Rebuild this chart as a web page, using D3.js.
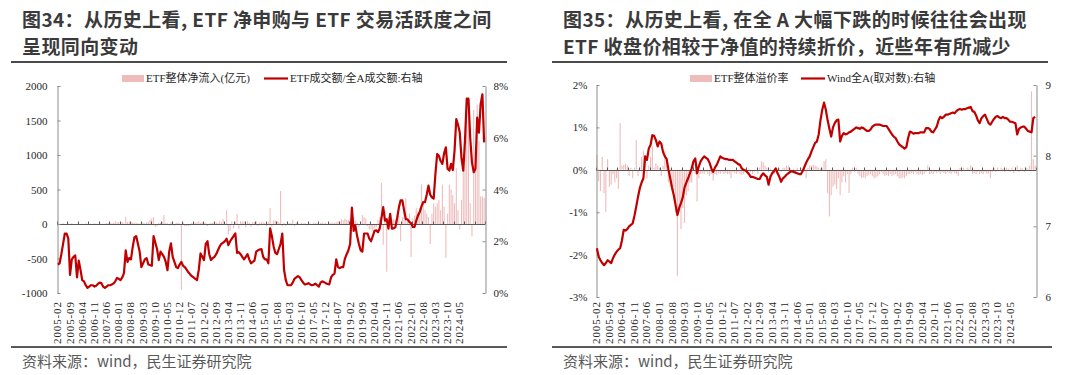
<!DOCTYPE html>
<html>
<head>
<meta charset="utf-8">
<script src="https://cdn.jsdelivr.net/npm/d3@7"></script>
<style>
  body { margin: 0; background: #fff; }
  svg { display: block; }
</style>
</head>
<body>
<svg id="chart" width="1080" height="375"></svg>
<script>
// ---- data (monthly, 2005-02 onwards) ----
const first_year = 2005, first_month = 2, n_months = 246;
const months = d3.range(n_months).map((i) => {
  const m = first_month - 1 + i;
  return (first_year + Math.floor(m / 12)) + '-' + String(m % 12 + 1).padStart(2, '0');
});

const tick_labels = [
  '2005-02','2005-09','2006-04','2006-11','2007-06','2008-01','2008-08','2009-03','2009-10',
  '2010-05','2010-12','2011-07','2012-02','2012-09','2013-04','2013-11','2014-06','2015-01',
  '2015-08','2016-03','2016-10','2017-05','2017-12','2018-07','2019-02','2019-09','2020-04',
  '2020-11','2021-06','2022-01','2022-08','2023-03','2023-10','2024-05'
];

// 图34 bars: ETF整体净流入(亿元)
const etf_net_inflow = [
  0, 5, -5, 10, 0, -10, 5, 0, 10, -5, 0, 5,
  0, -5, 5, 0, 10, 0, -5, 5, 0, 10, 5, 0,
  10, 5, -10, 5, 15, 10, 20, 10, 15, 40, 25, 30,
  20, 30, 10, 105, 30, 35, 20, 25, 15, 20, 10, 5,
  15, 20, 10, 25, 30, 60, 80, 100, -40, -30, 20, 15,
  30, 130, 20, 10, -20, 25, 30, -25, 20, 15, 10, -955,
  20, -30, -25, -30, -20, 15, 10, 20, 25, 40, 20, 25,
  15, 20, -30, 10, 15, 20, 10, 25, 15, 40, 30, 70,
  20, 200, -150, -100, 40, -60, 30, 145, -70, 40, 35, 40,
  -50, 40, 20, -40, 30, 25, 40, -30, 20, 30, 25, 20,
  -30, 30, 230, -40, 50, 50, 40, 30, 480, -30, 20, -25,
  20, 15, 10, 60, -30, 20, 15, -10, 20, 10, 15, -20,
  15, 10, -15, 20, 15, 10, -10, 15, 20, 10, 15, -15,
  10, 20, 15, 20, 25, 40, 30, 70, 50, 80, 60, 60,
  80, 170, 100, 50, 20, -40, 30, 130, 100, 80, -30, -80,
  -80, -100, -60, -50, 60, 100, 595, -300, 200, -690, 100, 150,
  60, 70, 50, 60, 120, -250, 100, 200, 375, 60, 150, -480,
  80, 120, 230, 180, 230, 570, 330, 200, 150, 100, -290, 150,
  300, 250, 300, 350, 200, 570, 250, -490, 150, 570, 500, 420,
  300, 810, 200, -80, 350, 810, 1300, 1830, 1800, 300, -180, 1650,
  1100, 1730, 1200, 400, 400, 380
];

// 图34 line: ETF成交额/全A成交额 (%), right axis
const etf_turnover_ratio = [
  1.1, 1.15, 1.5, 1.9, 2.3, 2.3, 2.1, 0.7, 1.3, 1.4, 1.45, 0.6,
  1.25, 0.9, 0.5, 0.45, 0.3, 0.2, 0.25, 0.3, 0.3, 0.25, 0.28, 0.35,
  0.4, 0.38, 0.25, 0.2, 0.25, 0.3, 0.3, 0.33, 0.37, 0.45, 0.58, 0.55,
  0.5, 0.6, 0.77, 1.65, 1.2, 1.35, 1.3, 1.77, 2.15, 2.2, 1.9, 1.6,
  1.0, 1.15, 1.3, 1.35, 1.1, 1.08, 1.05, 2.2, 1.95, 1.7, 1.27, 1.6,
  1.5, 1.4, 1.2, 0.88, 1.6, 1.92, 1.4, 1.2, 1.0, 0.96, 1.1, 1.2,
  1.05, 1.0, 0.9, 0.8, 0.72, 0.65, 0.6, 0.55, 0.5, 0.9, 1.53, 1.4,
  1.27, 1.9, 2.0, 1.5, 1.27, 1.35, 1.4, 1.5, 1.65, 1.8, 1.9, 1.95,
  2.0, 2.1, 1.85, 2.0, 2.1, 2.2, 2.3, 1.55, 1.58, 1.5, 1.4, 1.3,
  1.4, 1.5, 1.3, 1.15, 1.2, 1.25, 1.6, 1.65, 1.68, 1.7, 1.4, 1.3,
  1.3, 1.15, 2.5, 2.2, 1.8, 1.55, 1.5, 1.7, 1.9, 2.3, 0.9, 0.5,
  0.3, 0.3, 0.3, 0.4, 0.55, 0.6, 0.65, 0.6, 0.5, 0.4, 0.33, 0.35,
  0.38, 0.33, 0.3, 0.32, 0.36, 0.3, 0.25, 0.4, 0.45, 0.42, 0.38, 0.35,
  0.33, 0.6, 0.7, 0.75, 1.3, 1.0, 0.96, 1.0, 1.0, 1.33, 1.5, 1.65,
  1.9, 3.3, 2.4, 2.6, 2.2, 1.9, 1.65, 1.6, 2.3, 2.3, 2.3, 2.1,
  2.0, 2.2, 2.4, 2.42, 2.35, 2.5, 2.9, 3.32, 2.8, 2.85, 2.49, 3.06,
  2.49, 2.5, 2.55, 2.9, 3.3, 3.58, 3.58, 3.2, 2.85, 2.85, 2.75, 2.7,
  2.55, 2.55, 2.8, 3.0, 3.13, 3.35, 3.51, 3.51, 3.8, 4.15, 3.8, 3.7,
  3.65, 4.6, 5.37, 5.3, 5.1, 4.99, 5.4, 5.63, 4.8, 4.73, 4.99, 4.75,
  5.5, 6.72, 6.5, 6.2, 5.2, 4.73, 5.9, 7.51, 7.51, 6.0, 5.05, 4.67,
  4.8, 6.78, 6.2, 7.3, 7.68, 5.82
];

// 图35 bars: ETF整体溢价率 (%)
const etf_premium = [
  0.35, -0.27, -0.5, 0.3, -0.55, -1.0, 0.25, -0.4, -0.35, -0.1, -0.3, -0.2,
  -0.45, 1.1, 0.1, 0.12, 0.15, 0.1, -0.15, 0.05, -0.2, 0.05, 0.7, -0.15,
  0.05, 0.3, 0.45, 0.35, -0.2, 0.1, 0.3, 0.55, 0.05, 0.15, 0.1, 0.05,
  -0.15, 0.1, 0.45, 0.3, -0.3, -0.4, -0.5, -0.5, -1.0, -2.5, -1.0, -1.4,
  -0.9, -1.25, -0.6, -0.5, -0.3, -0.3, 0.25, -0.1, -0.75, -0.2, -0.1, -0.08,
  -0.1, -0.05, -0.1, -0.15, -0.1, -0.25, -0.1, -0.12, -0.08, -0.1, -0.05, -0.1,
  -0.08, -0.1, -0.1, -0.2, -0.05, -0.08, -0.1, -0.05, -0.1, -0.12, -0.1, -0.05,
  -0.08, 0.03, -0.05, -0.1, -0.05, -0.03, -0.1, 0.05, 0.2, 0.18, 0.1, 0.05,
  -0.05, 0.03, -0.05, -0.1, 0.05, -0.05, 0.03, -0.05, 0.05, 0.05, 0.1, 0.1,
  0.05, -0.05, 0.03, -0.05, 0.05, -0.03, 0.05, -0.05, 0.03, -0.2, 0.05, 0.1,
  0.1, 0.12, 0.1, 0.08, 0.05, 0.03, 0.05, 0.2, 0.25, -0.55, -1.1, -0.6,
  -0.4, -0.35, -0.45, -0.2, -0.6, -0.3, -0.15, -0.3, -0.1, -0.55, -0.1, 0.05,
  -0.05, 0.05, -0.1, -0.15, -0.2, -0.18, -0.2, -0.15, -0.12, -0.1, -0.15, -0.2,
  -0.18, -0.15, -0.1, -0.05, -0.1, -0.15, -0.12, -0.15, -0.1, -0.15, -0.12, -0.1,
  -0.15, -0.2, -0.2, -0.18, -0.2, -0.15, -0.1, -0.1, -0.08, -0.1, -0.05, -0.1,
  -0.12, -0.1, -0.12, -0.1, -0.05, 0.1, -0.1, -0.08, -0.1, -0.05, -0.08, -0.05,
  -0.1, -0.05, -0.08, -0.1, -0.05, -0.08, -0.1, -0.05, -0.08, -0.1, -0.15, 0.05,
  -0.05, 0.05, -0.03, 0.05, 0.03, 0.1, -0.1, -0.08, -0.1, -0.05, -0.1, -0.08,
  -0.1, -0.05, -0.1, -0.08, -0.2, -0.05, 0.05, -0.05, 0.05, -0.03, 0.05, 0.03,
  -0.05, 0.05, 0.03, -0.05, 0.05, -0.08, 0.05, 0.1, -0.05, 0.05, 0.03, -0.05,
  0.05, 0.03, 0.1, 1.85, 0.25, 0.1
];

// 图35 line: Wind全A(取对数), right axis
const wind_all_a_log = [
  6.69, 6.57, 6.52, 6.48, 6.45, 6.48, 6.52, 6.5, 6.48, 6.55, 6.6, 6.64,
  6.67, 6.69, 6.8, 6.95, 6.94, 6.96, 7.0, 7.02, 7.04, 7.15, 7.28, 7.42,
  7.54, 7.62, 7.68, 7.99, 7.94, 8.1, 8.15, 8.29, 8.28, 8.22, 8.13, 8.2,
  8.17, 8.05, 7.99, 7.95, 7.8, 7.68, 7.55, 7.44, 7.3, 7.16, 7.26, 7.33,
  7.41, 7.55, 7.62, 7.68, 7.75, 7.82, 7.92, 7.96, 7.75, 7.85, 7.92, 7.96,
  7.99, 7.97, 7.95, 7.9, 7.82, 7.77, 7.83, 7.87, 7.93, 7.99, 7.97, 7.96,
  7.95, 7.95, 7.94, 7.94, 7.94, 7.92, 7.9, 7.88, 7.87, 7.82, 7.80, 7.79,
  7.77, 7.74, 7.70, 7.70, 7.69, 7.68, 7.67, 7.67, 7.72, 7.75, 7.72, 7.70,
  7.59, 7.7, 7.75, 7.78, 7.82, 7.75, 7.7, 7.63, 7.68, 7.7, 7.73, 7.75,
  7.77, 7.78, 7.77, 7.76, 7.75, 7.74, 7.74, 7.78, 7.84, 7.9, 7.95, 7.99,
  8.06, 8.12, 8.18, 8.2, 8.3, 8.5, 8.65, 8.75, 8.65, 8.5, 8.38, 8.27,
  8.4, 8.46, 8.5, 8.51, 8.2, 8.28, 8.32, 8.3, 8.31, 8.33, 8.34, 8.36,
  8.38, 8.4, 8.39, 8.38, 8.40, 8.39, 8.37, 8.35, 8.35, 8.37, 8.41, 8.43,
  8.44, 8.44, 8.44, 8.43, 8.42, 8.42, 8.42, 8.38, 8.34, 8.3, 8.27, 8.25,
  8.2, 8.16, 8.14, 8.12, 8.10, 8.12, 8.25, 8.34, 8.33, 8.31, 8.32, 8.32,
  8.32, 8.33, 8.33, 8.33, 8.39, 8.39, 8.38, 8.34, 8.33, 8.37, 8.41, 8.5,
  8.55, 8.53, 8.55, 8.58, 8.58, 8.59, 8.60, 8.61, 8.6, 8.63, 8.65, 8.66,
  8.65, 8.66, 8.66, 8.67, 8.68, 8.69, 8.63, 8.62, 8.57, 8.5, 8.46, 8.53,
  8.56, 8.58, 8.52, 8.46, 8.44, 8.48, 8.52, 8.55, 8.56, 8.54, 8.53, 8.55,
  8.53, 8.53, 8.51, 8.48, 8.48, 8.47, 8.46, 8.3, 8.38, 8.4, 8.41, 8.41,
  8.38, 8.35, 8.34, 8.33, 8.53, 8.55
];

// ---- styles ----
const line_color = '#c00000';
const bar_color = '#efbcbc';
const axis_color = '#8c8c8c';
const text_color = '#262626';
const num_font = '"Times New Roman", "Liberation Serif", "Noto Sans CJK SC", serif';
const title_font = '"Noto Sans CJK SC", "Microsoft YaHei", sans-serif';

const svg = d3.select('#chart');

// 1. one panel = title block + dual axis chart + source
function draw_panel(cfg){
  const g = svg.append('g').attr('class', cfg.name);

  // title, two lines (spaced so the line boxes do not collide)
  cfg.title.forEach((t, k) => {
    g.append('text')
      .attr('x', cfg.title_x).attr('y', 26.5 + k * 27.5)
      .attr('font-family', title_font).attr('font-weight', 700)
      .attr('font-size', 19).attr('letter-spacing', 0.4)
      .attr('fill', '#3a3a3a')
      .text(t);
  });
  g.append('line')
    .attr('x1', cfg.rule[0]).attr('x2', cfg.rule[1])
    .attr('y1', 62).attr('y2', 62)
    .attr('stroke', '#4a4a4a').attr('stroke-width', 2);

  // scales
  const x = d3.scaleBand().domain(d3.range(months.length)).range([cfg.left, cfg.right]);
  const y_l = d3.scaleLinear().domain(cfg.left_domain).range([cfg.bottom, cfg.top]);
  const y_r = d3.scaleLinear().domain(cfg.right_domain).range([cfg.bottom, cfg.top]);
  const bw = Math.max(1, x.bandwidth() * 0.62);

  // bars
  g.append('g').selectAll('rect')
    .data(cfg.bars)
    .join('rect')
    .attr('x', (d, i) => x(i) + (x.bandwidth() - bw) / 2)
    .attr('y', (d) => y_l(Math.max(0, d)))
    .attr('width', bw)
    .attr('height', (d) => Math.abs(y_l(d) - y_l(0)))
    .attr('fill', bar_color);

  // category axis on the zero line, ticks pointing up
  const y0 = Math.round(y_l(0)) + 0.5;
  const tick_idx = d3.range(0, months.length + 1, 6);
  const xg = g.append('g');
  xg.append('line')
    .attr('x1', cfg.left).attr('x2', cfg.right)
    .attr('y1', y0).attr('y2', y0)
    .attr('stroke', '#595959').attr('stroke-width', 1);
  xg.selectAll('line.tk')
    .data(tick_idx)
    .join('line')
    .attr('class', 'tk')
    .attr('x1', (i) => Math.round(cfg.left + i * x.step()) + 0.5)
    .attr('x2', (i) => Math.round(cfg.left + i * x.step()) + 0.5)
    .attr('y1', y0).attr('y2', y0 - 3)
    .attr('stroke', '#595959');

  // rotated date labels under the plot
  g.append('g').selectAll('text')
    .data(tick_labels)
    .join('text')
    .attr('transform', (d) => {
      const cx = x(months.indexOf(d)) + x.bandwidth() / 2 + 3.5;
      return `translate(${cx}, ${cfg.label_y}) rotate(-90)`;
    })
    .attr('text-anchor', 'end')
    .attr('font-family', num_font).attr('font-size', 11)
    .attr('textLength', 42).attr('lengthAdjust', 'spacing')
    .attr('fill', text_color)
    .text((d) => d);

  // value axes
  const ax_l = g.append('g')
    .attr('transform', `translate(${cfg.left + 0.5}, 0)`)
    .call(d3.axisLeft(y_l).tickValues(cfg.left_ticks).tickFormat(cfg.left_fmt)
      .tickSizeInner(-3).tickSizeOuter(0).tickPadding(cfg.pad_l));
  const ax_r = g.append('g')
    .attr('transform', `translate(${cfg.right + 0.5}, 0)`)
    .call(d3.axisRight(y_r).tickValues(cfg.right_ticks).tickFormat(cfg.right_fmt)
      .tickSizeInner(-3).tickSizeOuter(0).tickPadding(cfg.pad_r));
  [ax_l, ax_r].forEach((a) => {
    a.select('.domain').attr('stroke', axis_color);
    a.selectAll('.tick line').attr('stroke', axis_color);
    a.selectAll('.tick text')
      .attr('font-family', num_font).attr('font-size', 11).attr('fill', text_color);
  });

  // line
  const line_gen = d3.line()
    .x((d, i) => x(i) + x.bandwidth() / 2)
    .y((d) => y_r(d));
  g.append('path')
    .datum(cfg.line)
    .attr('d', line_gen)
    .attr('fill', 'none')
    .attr('stroke', line_color)
    .attr('stroke-width', 2.2)
    .attr('stroke-linejoin', 'round');

  // legend
  const lg = g.append('g').attr('font-family', num_font).attr('font-size', 11).attr('fill', text_color);
  lg.append('rect')
    .attr('x', cfg.legend[0]).attr('y', 75).attr('width', 22).attr('height', 7)
    .attr('fill', bar_color);
  lg.append('text').attr('x', cfg.legend[0] + 24).attr('y', 82).text(cfg.bar_name);
  lg.append('line')
    .attr('x1', cfg.legend[1]).attr('x2', cfg.legend[1] + 24)
    .attr('y1', 78.5).attr('y2', 78.5)
    .attr('stroke', line_color).attr('stroke-width', 2.2);
  lg.append('text').attr('x', cfg.legend[1] + 26).attr('y', 82).text(cfg.line_name);

  // source
  g.append('line')
    .attr('x1', cfg.rule[0]).attr('x2', cfg.rule[1] + cfg.foot_extra)
    .attr('y1', 347).attr('y2', 347)
    .attr('stroke', '#595959').attr('stroke-width', 2);
  g.append('text')
    .attr('x', cfg.title_x).attr('y', 367)
    .attr('font-family', title_font).attr('font-size', 15).attr('fill', '#595959')
    .text('资料来源：wind，民生证券研究院');
}

const pct0 = (d) => d + '%';

draw_panel({
  name: 'fig34',
  title: ['图34：从历史上看, ETF 净申购与 ETF 交易活跃度之间', '呈现同向变动'],
  title_x: 22, rule: [11, 507], foot_extra: 0,
  left: 57, right: 485, top: 86, bottom: 293, label_y: 302,
  left_domain: [-1000, 2000], left_ticks: [-1000, -500, 0, 500, 1000, 1500, 2000],
  left_fmt: (d) => String(d), pad_l: 10,
  right_domain: [0, 8], right_ticks: [0, 2, 4, 6, 8], right_fmt: pct0, pad_r: 8,
  bars: etf_net_inflow, line: etf_turnover_ratio,
  legend: [122, 264],
  bar_name: 'ETF整体净流入(亿元)', line_name: 'ETF成交额/全A成交额:右轴'
});

draw_panel({
  name: 'fig35',
  title: ['图35：从历史上看, 在全 A 大幅下跌的时候往往会出现', 'ETF 收盘价相较于净值的持续折价，近些年有所减少'],
  title_x: 563, rule: [552, 1048], foot_extra: 4,
  left: 596, right: 1036, top: 85, bottom: 297, label_y: 302,
  left_domain: [-3, 2], left_ticks: [-3, -2, -1, 0, 1, 2],
  left_fmt: pct0, pad_l: 9,
  right_domain: [6, 9], right_ticks: [6, 7, 8, 9], right_fmt: (d) => String(d), pad_r: 9,
  bars: etf_premium, line: wind_all_a_log,
  legend: [690, 801],
  bar_name: 'ETF整体溢价率', line_name: 'Wind全A(取对数):右轴'
});
</script>
</body>
</html>
